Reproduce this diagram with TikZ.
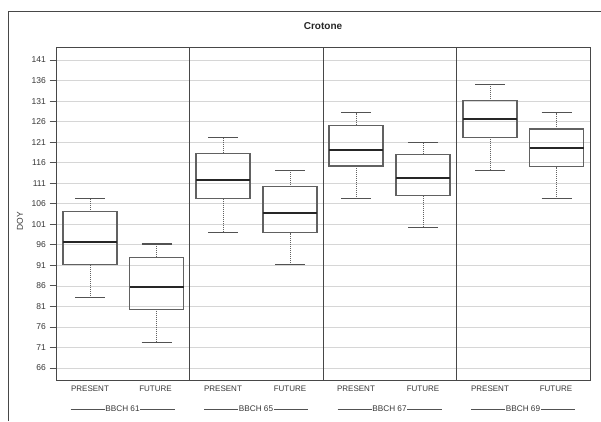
\documentclass[tikz,border=0pt]{standalone}
\usepackage{fontspec}
\setmainfont{Liberation Sans}
\begin{document}
\begin{tikzpicture}[x=1pt,y=-1pt,
  declare function={Y(\v)=60+(141-\v)*4.107;},
  frameline/.style={draw=black!72, line width=0.9pt},
  gridline/.style={draw=black!16, line width=0.7pt},
  boxline/.style={draw=black!62, line width=1.1pt},
  medline/.style={draw=black!85, line width=1.9pt},
  whisk/.style={draw=black!62, line width=0.9pt, dash pattern=on 1pt off 1pt},
  capline/.style={draw=black!68, line width=1.1pt},
  ticklab/.style={font=\fontsize{8.5}{9}\selectfont, text=black!78, anchor=east, inner sep=0pt},
  catlab/.style={font=\fontsize{8}{9}\selectfont, text=black!78, inner sep=0pt},
  grplab/.style={font=\fontsize{8.2}{9}\selectfont, text=black!78, fill=white, inner sep=0.5pt},
  grpline/.style={draw=black!68, line width=0.7pt},
]
\useasboundingbox (0,0) rectangle (601,421);
\fill[white] (0,0) rectangle (601,421);

% outer frame
\draw[frameline] (8,421) -- (8,11) -- (601,11);

% title
\node[font=\bfseries\fontsize{10}{11}\selectfont, text=black!85] (title) at (323,26) {Crotone};

% grid lines
\foreach \v in {66,71,...,141} {
  \draw[gridline] (56,{Y(\v)}) -- (590,{Y(\v)});
}

% y ticks and labels
\foreach \v in {66,71,...,141} {
  \draw[draw=black!68, line width=0.8pt] (49.5,{Y(\v)}) -- (56,{Y(\v)});
  \node[ticklab] (t\v) at (46,{Y(\v)}) {\v};
}
\node[font=\fontsize{8.5}{9}\selectfont, text=black!78, rotate=90] (ylab) at (20,221) {DOY};

% boxes: center x, low, q1, median, q3, high
\newcommand{\mybox}[6]{%
  \draw[whisk] (#1,{Y(#2)}) -- (#1,{Y(#3)});
  \draw[whisk] (#1,{Y(#5)}) -- (#1,{Y(#6)});
  \draw[capline] ({#1-15},{Y(#2)}) -- ({#1+15},{Y(#2)});
  \draw[capline] ({#1-15},{Y(#6)}) -- ({#1+15},{Y(#6)});
  \draw[boxline] ({#1-27},{Y(#3)}) rectangle ({#1+27},{Y(#5)});
  \draw[medline] ({#1-27},{Y(#4)}) -- ({#1+27},{Y(#4)});
}
\mybox{90}{83.1}{91.3}{96.7}{104.1}{107.2}
\mybox{156.5}{72.3}{80.3}{85.7}{93}{96.2}
\mybox{223}{99.1}{107.2}{111.7}{118.3}{122.2}
\mybox{290}{91.2}{99}{103.7}{110.2}{114.1}
\mybox{356}{107.2}{115.2}{119.1}{125.1}{128.2}
\mybox{423}{100.3}{108.1}{112.2}{118.1}{121}
\mybox{490}{114.2}{122.2}{126.7}{131.1}{135.1}
\mybox{556.7}{107.2}{115}{119.6}{124.2}{128.2}

% plot frame and panel dividers
\draw[frameline] (56,47) rectangle (590,380);
\foreach \x in {189,323,456} {
  \draw[frameline] (\x,47) -- (\x,380);
}

% category labels
\node[catlab] (p1) at (90,388.5) {PRESENT};
\node[catlab] (f1) at (155.5,388.5) {FUTURE};
\node[catlab] (p2) at (223,388.5) {PRESENT};
\node[catlab] (f2) at (290,388.5) {FUTURE};
\node[catlab] (p3) at (356,388.5) {PRESENT};
\node[catlab] (f3) at (423,388.5) {FUTURE};
\node[catlab] (p4) at (490,388.5) {PRESENT};
\node[catlab] (f4) at (556,388.5) {FUTURE};

% group labels
\foreach \c/\t in {122.5/61,256/65,389.5/67,523/69} {
  \coordinate (gl\t) at ({\c-52},409);
  \coordinate (gr\t) at ({\c+52},409);
  \draw[grpline] (gl\t) -- (gr\t);
  \node[grplab] (g\t) at (\c,409) {BBCH \t};
}
\end{tikzpicture}
\end{document}
